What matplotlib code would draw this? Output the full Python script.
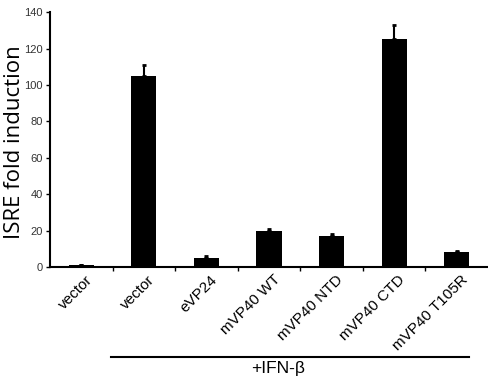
import numpy as np
import matplotlib.pyplot as plt
from matplotlib.transforms import ScaledTranslation

labels = ["vector", "vector", "eVP24", "mVP40 WT", "mVP40 NTD", "mVP40 CTD", "mVP40 T105R"]
values = [1.0, 105, 5.2, 19.8, 17.0, 125, 8.2]
errors = [0.3, 6, 0.8, 1.2, 1.0, 8, 0.8]

fig = plt.figure(figsize=(4.88, 3.78), dpi=100)
ax = fig.add_axes([0.1025, 0.2937, 0.8975, 0.6743])

x = np.arange(len(labels))
ax.bar(x, values, width=0.4, color="black")
ax.errorbar(x, values, yerr=[np.zeros(len(errors)), errors], fmt="none",
            ecolor="black", elinewidth=1.5, capsize=1.5, capthick=2)

ax.set_xlim(-0.5, len(labels) - 0.5)
ax.set_ylim(0, 140)
ax.set_yticks(range(0, 141, 20))
ax.tick_params(axis="y", labelsize=8, length=3, width=1, colors="black",
               labelcolor="#333333", pad=2)
for t in ax.get_yticklabels():
    t.set_family("Liberation Sans")

ax.set_xticks(x)
ax.set_xticklabels(labels, rotation=45, ha="right", rotation_mode="anchor",
                   fontsize=11, family="Liberation Sans")
ax.tick_params(axis="x", length=0, pad=4)
shift = ScaledTranslation(4 / 100, 0, fig.dpi_scale_trans)
for t in ax.get_xticklabels():
    t.set_transform(t.get_transform() + shift)
ax.set_xticks(x[:-1] + 0.5, minor=True)
ax.tick_params(axis="x", which="minor", length=3, width=1, direction="out")

for s in ["top", "right"]:
    ax.spines[s].set_visible(False)
ax.spines["left"].set_linewidth(1.5)
ax.spines["bottom"].set_linewidth(1.5)

ax.set_ylabel("ISRE fold induction", fontsize=16, family="Open Sans")
ax.yaxis.set_label_coords(-0.058, 0.49)

trans = ax.get_xaxis_transform()
ax.plot([0.476, 6.19], [-0.353, -0.353], color="black", lw=1.5,
        transform=trans, clip_on=False)
ax.text(3.15, -0.37, "+IFN-β", transform=trans, ha="center", va="top",
        fontsize=12.5, family="Liberation Sans")

plt.savefig("out.png", dpi=100)
